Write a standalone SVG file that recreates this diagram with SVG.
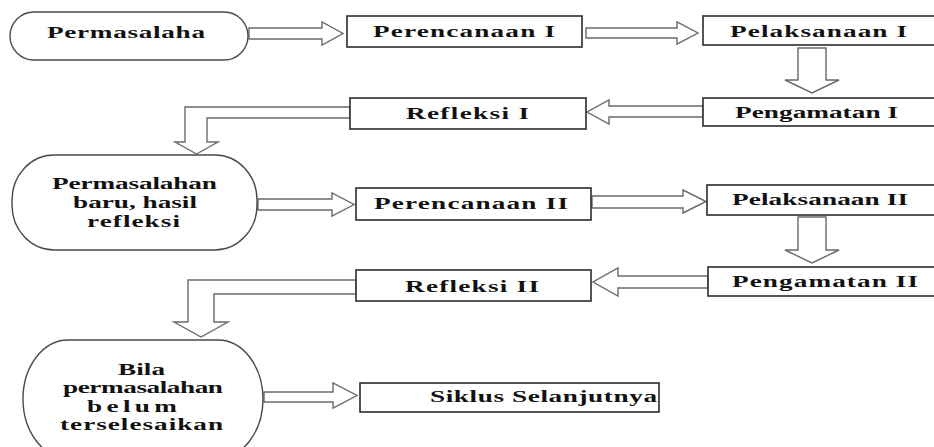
<svg xmlns="http://www.w3.org/2000/svg" width="934" height="447" viewBox="0 0 934 447">
  <style>
    .box { fill: #ffffff; stroke: #2b2b2b; stroke-width: 1.6; }
    .term { fill: #ffffff; stroke: #4a4a4a; stroke-width: 1.4; }
    .arrow { fill: #ffffff; stroke: #6a6a6a; stroke-width: 1.4; stroke-linejoin: miter; }
    .lbl { font-family: "Liberation Serif", "Times New Roman", serif; font-weight: bold; font-size: 17px; fill: #111111; text-anchor: middle; }
  </style>
  <rect width="934" height="447" fill="#ffffff"/>

  <!-- block-arrow connectors -->
  <g id="connectors">
    <path class="arrow" d="M249,28 H322 V22 L343,33.5 L322,45 V39 H249 Z"/>
    <path class="arrow" d="M586,28 H677 V22 L698,33 L677,44 V38 H586 Z"/>
    <path class="arrow" d="M798,48 V80 H785 L812,93 L839,80 H826 V48 Z"/>
    <path class="arrow" d="M703,106 H609 V100 L587,112 L609,124 V117 H703 Z"/>
    <path class="arrow" d="M350,107 H185 V142 H175 L196.5,154 L218,142 H207 V118 H350 Z"/>
    <path class="arrow" d="M258,199 H332 V193 L354,204.5 L332,216 V210 H258 Z"/>
    <path class="arrow" d="M592,196 H683 V190 L706,201.5 L683,213 V208 H592 Z"/>
    <path class="arrow" d="M798,217 V250 H785 L812,263 L839,250 H826 V217 Z"/>
    <path class="arrow" d="M708,276 H618 V268 L593,282 L618,296 V288 H708 Z"/>
    <path class="arrow" d="M356,280 H188 V322 H174 L201,337 L228,322 H214 V294 H356 Z"/>
    <path class="arrow" d="M264,392 H333 V383 L357,395.5 L333,408 V402 H264 Z"/>
  </g>

  <!-- labels are set in wide bold serif: each is stretched 1.6x horizontally -->
  <g id="permasalaha">
    <rect class="term" x="10" y="12" width="238" height="48" rx="24" ry="24"/>
    <text class="lbl" transform="translate(126,38) scale(1.6,1)" textLength="98.75" lengthAdjust="spacing">Permasalaha</text>
  </g>

  <g id="perencanaan-1">
    <rect class="box" x="347" y="16" width="235" height="31"/>
    <text class="lbl" transform="translate(464,37) scale(1.6,1)" textLength="113.75" lengthAdjust="spacing">Perencanaan I</text>
  </g>

  <g id="pelaksanaan-1">
    <rect class="box" x="703" y="16" width="240" height="29"/>
    <text class="lbl" transform="translate(818.5,37) scale(1.6,1)" textLength="110.6" lengthAdjust="spacing">Pelaksanaan I</text>
  </g>

  <g id="pengamatan-1">
    <rect class="box" x="703" y="98" width="240" height="28"/>
    <text class="lbl" transform="translate(816.5,118) scale(1.6,1)" textLength="101.9" lengthAdjust="spacing">Pengamatan I</text>
  </g>

  <g id="refleksi-1">
    <rect class="box" x="350" y="98" width="236" height="31"/>
    <text class="lbl" transform="translate(467.5,119) scale(1.6,1)" textLength="76.9" lengthAdjust="spacing">Refleksi I</text>
  </g>

  <g id="permasalahan-baru">
    <rect class="term" x="12" y="155" width="245" height="95" rx="42" ry="45"/>
    <text class="lbl" transform="translate(134.5,189) scale(1.6,1)" textLength="103.1" lengthAdjust="spacing">Permasalahan</text>
    <text class="lbl" transform="translate(135,208) scale(1.6,1)" textLength="77.5" lengthAdjust="spacing">baru, hasil</text>
    <text class="lbl" transform="translate(133.5,227) scale(1.6,1)" textLength="58.1" lengthAdjust="spacing">refleksi</text>
  </g>

  <g id="perencanaan-2">
    <rect class="box" x="356" y="188" width="235" height="32"/>
    <text class="lbl" transform="translate(471,209) scale(1.6,1)" textLength="121.25" lengthAdjust="spacing">Perencanaan II</text>
  </g>

  <g id="pelaksanaan-2">
    <rect class="box" x="707" y="185" width="236" height="30"/>
    <text class="lbl" transform="translate(820,205) scale(1.6,1)" textLength="110" lengthAdjust="spacing">Pelaksanaan II</text>
  </g>

  <g id="pengamatan-2">
    <rect class="box" x="708" y="267" width="235" height="29"/>
    <text class="lbl" transform="translate(825,287) scale(1.6,1)" textLength="116.25" lengthAdjust="spacing">Pengamatan II</text>
  </g>

  <g id="refleksi-2">
    <rect class="box" x="356" y="270" width="235" height="31"/>
    <text class="lbl" transform="translate(472,292) scale(1.6,1)" textLength="83.75" lengthAdjust="spacing">Refleksi II</text>
  </g>

  <g id="belum-selesai">
    <rect class="term" x="23" y="340" width="240" height="118" rx="45" ry="60"/>
    <text class="lbl" transform="translate(141.5,375) scale(1.6,1)" textLength="29.4" lengthAdjust="spacing">Bila</text>
    <text class="lbl" transform="translate(143,393) scale(1.6,1)" textLength="100" lengthAdjust="spacing">permasalahan</text>
    <text class="lbl" transform="translate(132,412) scale(1.6,1)" textLength="56.25" lengthAdjust="spacing">belum</text>
    <text class="lbl" transform="translate(141.5,430) scale(1.6,1)" textLength="101.9" lengthAdjust="spacing">terselesaikan</text>
  </g>

  <g id="siklus-selanjutnya">
    <rect class="box" x="360" y="383" width="299" height="29"/>
    <text class="lbl" transform="translate(543.5,402) scale(1.6,1)" textLength="141.9" lengthAdjust="spacing">Siklus Selanjutnya</text>
  </g>
</svg>
